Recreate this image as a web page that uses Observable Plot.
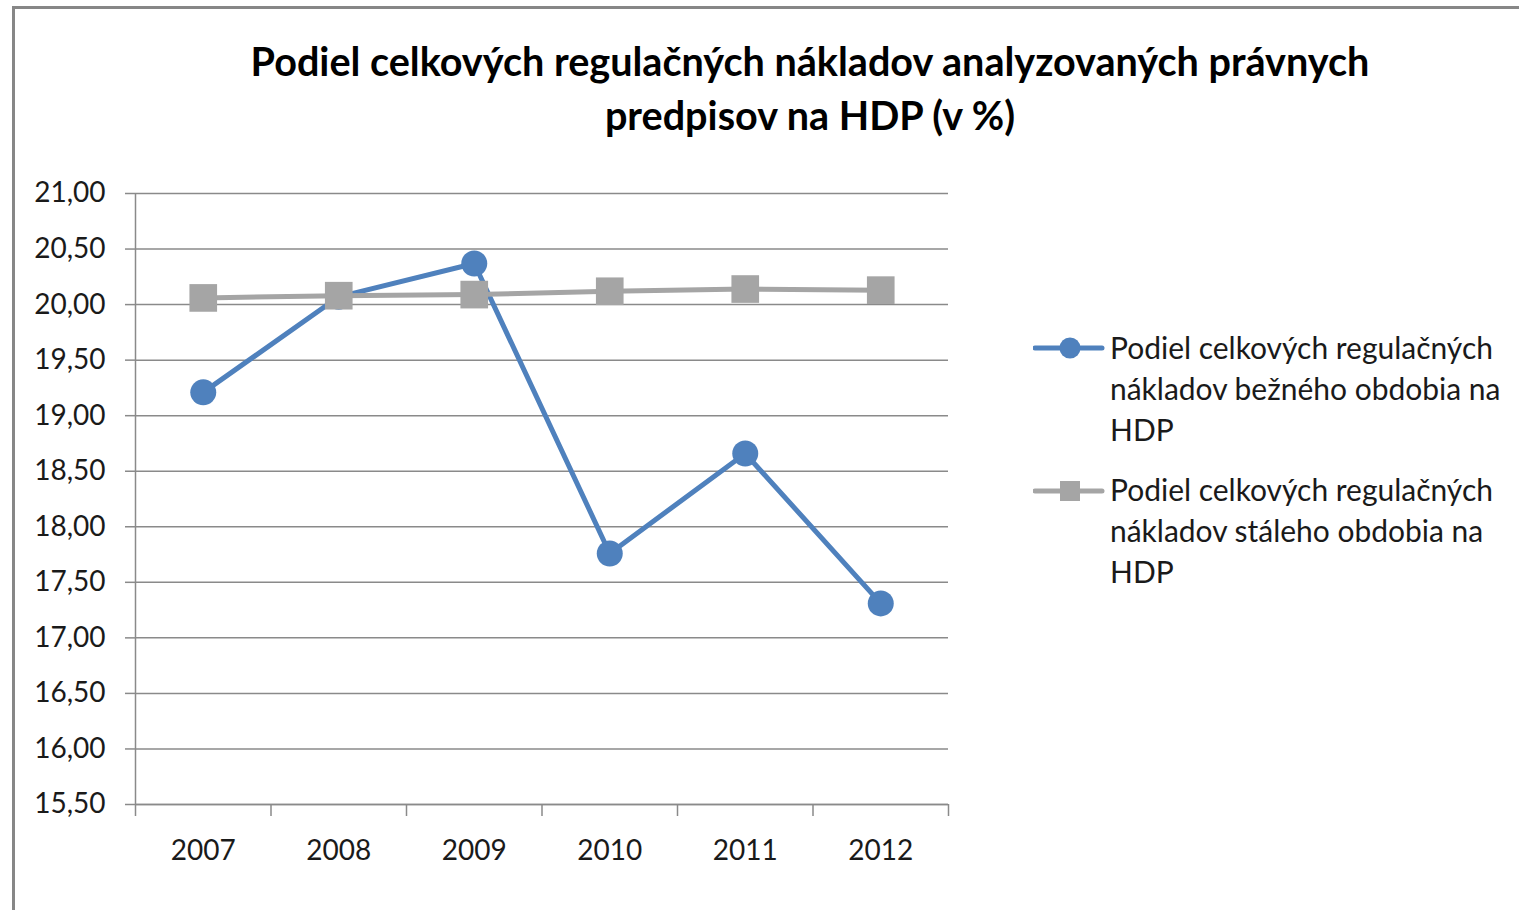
<!DOCTYPE html>
<html>
<head>
<meta charset="utf-8">
<script src="https://cdn.jsdelivr.net/npm/d3@7"></script>
<script src="https://cdn.jsdelivr.net/npm/@observablehq/plot@0.6"></script>
<style>
  html, body { margin: 0; padding: 0; background: #fff; }
  #wrap { position: relative; width: 1519px; height: 910px; overflow: hidden; background: #fff; font-family: Lato, "Open Sans", sans-serif; color: #1a1a1a; }
  #frame { position: absolute; left: 12px; top: 6px; width: 2000px; height: 2000px; border: 3px solid #878787; box-sizing: border-box; }
  #title { position: absolute; left: 100px; width: 1420px; top: 34px; text-align: center; font-weight: bold; line-height: 54px; color: #000; white-space: nowrap; }
  #chart { position: absolute; left: 0; top: 150px; }
  .leg { position: absolute; left: 1110px; line-height: 41px; white-space: nowrap; color: #1a1a1a; }
  .sw { position: absolute; left: 1033px; }
</style>
</head>
<body>
<div id="wrap">
  <div id="frame"></div>
  <div id="title"></div>
  <div id="chart"></div>
  <svg class="sw" id="sw1" width="72" height="30" style="top:333px"></svg>
  <div class="leg" id="leg1" style="top:327px"></div>
  <svg class="sw" id="sw2" width="72" height="30" style="top:476px"></svg>
  <div class="leg" id="leg2" style="top:469px"></div>
</div>
<script>
// ---- data ----
const years = [2007, 2008, 2009, 2010, 2011, 2012];
const bezneObdobie = [19.21, 20.07, 20.37, 17.76, 18.66, 17.31];
const staleObdobie = [20.06, 20.08, 20.09, 20.12, 20.14, 20.13];
const yTicks = [15.5, 16, 16.5, 17, 17.5, 18, 18.5, 19, 19.5, 20, 20.5, 21];
const titleLines = ["Podiel celkových regulačných nákladov analyzovaných právnych", "predpisov na HDP (v %)"];
const seriesNames = [
  ["Podiel celkových regulačných", "nákladov bežného obdobia na", "HDP"],
  ["Podiel celkových regulačných", "nákladov stáleho obdobia na", "HDP"]
];

const BLUE = "#4F81BD", GRAY = "#A5A5A5", GRID = "#8a8a8a";

// font fitting helper
const cv = document.createElement("canvas").getContext("2d");
function fit(text, weight, base, target) {
  cv.font = `${weight} ${base}px Lato`;
  const w = cv.measureText(text).width;
  return w > 0 ? base * target / w : base;
}

// title
const tSize = fit(titleLines[0], "bold", 37, 1120);
const titleEl = document.getElementById("title");
titleEl.style.fontSize = tSize + "px";
titleEl.innerHTML = titleLines.join("<br>");

// legend
const lSize = fit(seriesNames[0][0], "normal", 25.5, 383);
["leg1", "leg2"].forEach((id, i) => {
  const el = document.getElementById(id);
  el.style.fontSize = lSize + "px";
  el.innerHTML = seriesNames[i].join("<br>");
});
const sw1 = d3.select("#sw1");
sw1.append("line").attr("x1", 2).attr("x2", 69).attr("y1", 15).attr("y2", 15).attr("stroke", BLUE).attr("stroke-width", 5).attr("stroke-linecap", "round");
sw1.append("circle").attr("cx", 37).attr("cy", 15).attr("r", 10.5).attr("fill", BLUE);
const sw2 = d3.select("#sw2");
sw2.append("line").attr("x1", 2).attr("x2", 69).attr("y1", 15).attr("y2", 15).attr("stroke", GRAY).attr("stroke-width", 5).attr("stroke-linecap", "round");
sw2.append("rect").attr("x", 27).attr("y", 5).attr("width", 20).attr("height", 20).attr("fill", GRAY);

// table
const blue = years.map((y, i) => ({year: y, value: bezneObdobie[i]}));
const gray = years.map((y, i) => ({year: y, value: staleObdobie[i]}));
const bounds = d3.range(years.length + 1).map(i => years[0] - 0.5 + i);
const fmt = d => d.toFixed(2).replace(".", ",");

const plot = Plot.plot({
  width: 960,
  height: 760,
  marginLeft: 135,
  marginRight: 12,
  marginTop: 43,
  marginBottom: 106,
  style: {fontFamily: "Lato, 'Open Sans', sans-serif", fontSize: "28px", background: "transparent", color: "#1a1a1a"},
  x: {type: "linear", domain: [bounds[0], bounds[bounds.length - 1]], axis: null},
  y: {type: "linear", domain: [15.5, 21], axis: null},
  marks: [
    Plot.gridY(yTicks, {stroke: GRID, strokeOpacity: 1, strokeWidth: 1.5}),
    Plot.ruleX([bounds[0]], {stroke: GRID, strokeWidth: 1.5}),
    Plot.ruleY([15.5], {stroke: GRID, strokeWidth: 1.5}),
    Plot.axisY({ticks: yTicks, tickSize: 10, text: null, label: null, stroke: GRID, strokeWidth: 1.5, strokeOpacity: 1}),
    Plot.axisY({ticks: yTicks, tickSize: 0, tickPadding: 30, tickFormat: fmt, label: null, fill: "#1a1a1a", fontSize: 28}),
    Plot.axisX({ticks: bounds, tickSize: 12, text: null, label: null, stroke: GRID, strokeWidth: 1.5, strokeOpacity: 1}),
    Plot.axisX({ticks: years, tickSize: 0, tickPadding: 36, tickFormat: d => String(d), label: null, fill: "#1a1a1a", fontSize: 28}),
    Plot.line(blue, {x: "year", y: "value", stroke: BLUE, strokeWidth: 5, strokeLinejoin: "round"}),
    Plot.dot(blue, {x: "year", y: "value", r: 13, fill: BLUE, stroke: "none"}),
    Plot.line(gray, {x: "year", y: "value", stroke: GRAY, strokeWidth: 5, strokeLinejoin: "round"}),
    Plot.dot(gray, {x: "year", y: "value", r: 15.6, symbol: "square", fill: GRAY, stroke: "none"})
  ]
});
document.getElementById("chart").appendChild(plot);
</script>
</body>
</html>
